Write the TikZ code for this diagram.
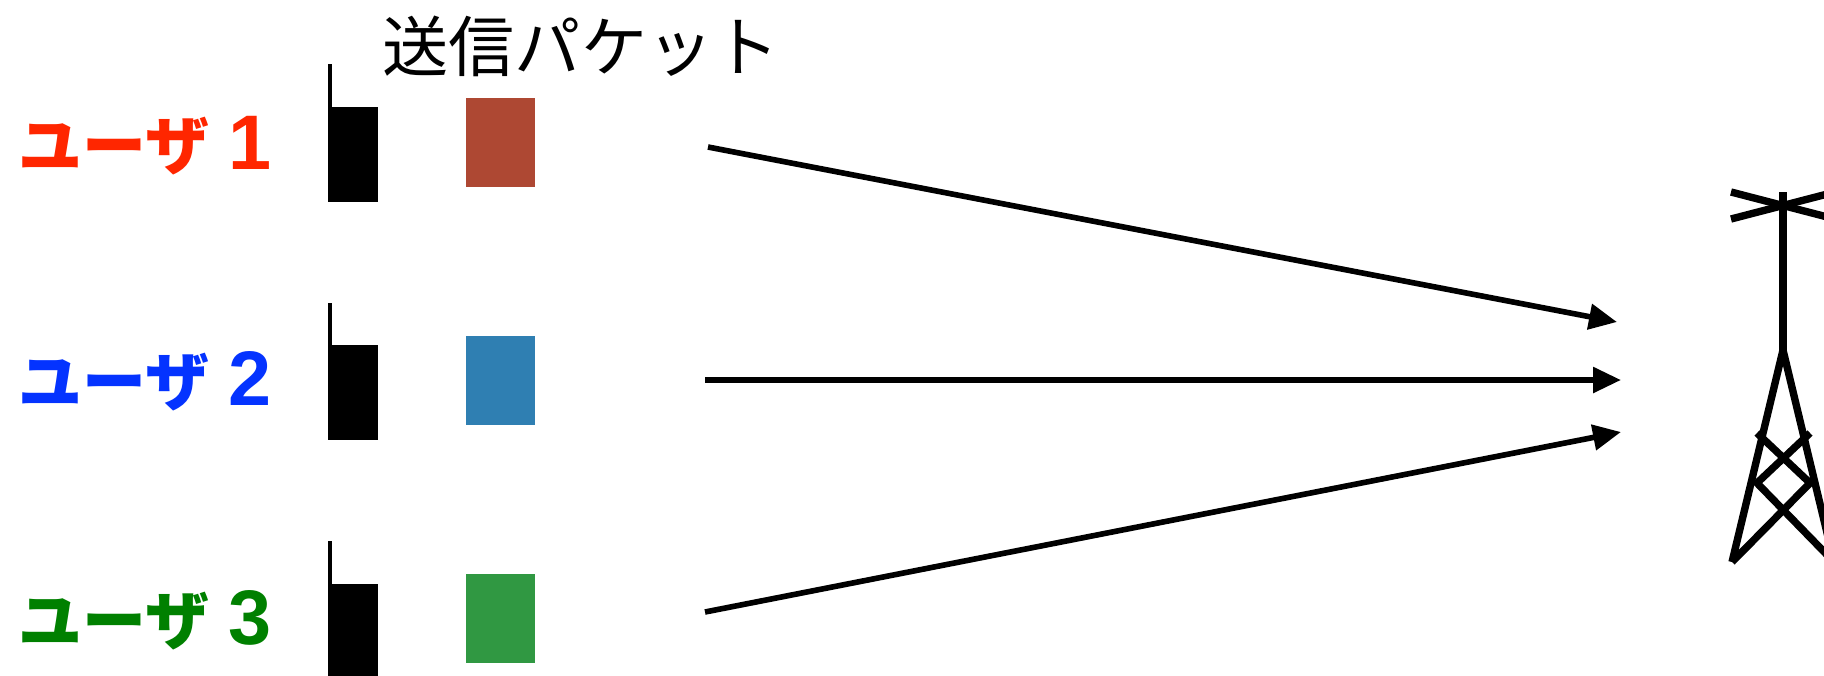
\documentclass[tikz,border=0pt]{standalone}
\usepackage{fontspec}
\setmainfont{Noto Sans CJK JP}
\newfontfamily\digitfont{Liberation Sans}
\usetikzlibrary{arrows.meta, positioning}
\definecolor{userred}{RGB}{255,38,0}
\definecolor{userblue}{RGB}{4,51,255}
\definecolor{usergreen}{RGB}{0,128,0}
\definecolor{packetred}{RGB}{174,72,51}
\definecolor{packetblue}{RGB}{47,127,178}
\definecolor{packetgreen}{RGB}{48,152,66}
\newcommand{\usernum}[1]{\hspace{5.5pt}{\digitfont\fontsize{22}{24}\selectfont #1}}
\tikzset{
  userlabel/.style={anchor=west, inner sep=0pt, font=\fontsize{18.2}{20}\selectfont\bfseries},
  phonebody/.style={fill=black, inner sep=0pt, minimum width=0.5cm, minimum height=0.95cm, anchor=north west},
  packet/.style={inner sep=0pt, minimum width=0.69cm, minimum height=0.89cm, anchor=north west},
  link/.style={line width=1.6pt, -{Triangle[length=0.28cm, width=0.25cm]}},
  tower/.style={line width=2.1pt, line cap=butt, line join=miter},
}
\begin{document}
\begin{tikzpicture}[x=0.01cm, y=-0.01cm]
\useasboundingbox (0,0) rectangle (1824,675);
\node[anchor=west, inner sep=0pt, font=\fontsize{18.8}{20}\selectfont] (title) at (382,46) {送信パケット};
\node[userlabel, text=userred] (user1) at (18,146) {ユーザ\usernum{1}};
\node[userlabel, text=userblue] (user2) at (18,381) {ユーザ\usernum{2}};
\node[userlabel, text=usergreen] (user3) at (18,620) {ユーザ\usernum{3}};
\node[phonebody] (phone1) at (327,106) {};
\node[phonebody] (phone2) at (327,344) {};
\node[phonebody] (phone3) at (327,583) {};
\draw[line width=1.4pt] (330,64)--(330,110);
\draw[line width=1.4pt] (330,303)--(330,348);
\draw[line width=1.4pt] (330,541)--(330,587);
\node[packet, fill=packetred] (packet1) at (465,97) {};
\node[packet, fill=packetblue] (packet2) at (465,335) {};
\node[packet, fill=packetgreen] (packet3) at (465,573) {};
\coordinate (start1) at (708,147);
\coordinate (start2) at (705,380);
\coordinate (start3) at (705,612);
\coordinate (end1) at (1617,322);
\coordinate (end2) at (1621,380);
\coordinate (end3) at (1621,432);
\draw[link] (start1)--(end1);
\draw[link] (start2)--(end2);
\draw[link] (start3)--(end3);
\draw[tower] (1783,192)--(1783,350);
\draw[tower] (1731,192)--(1835,219);
\draw[tower] (1731,219)--(1835,192);
\draw[tower] (1732,562)--(1783,350)--(1834,562);
\draw[tower] (1757,433)--(1810,483)--(1732,562);
\draw[tower] (1810,433)--(1757,483)--(1834,562);
\end{tikzpicture}
\end{document}
